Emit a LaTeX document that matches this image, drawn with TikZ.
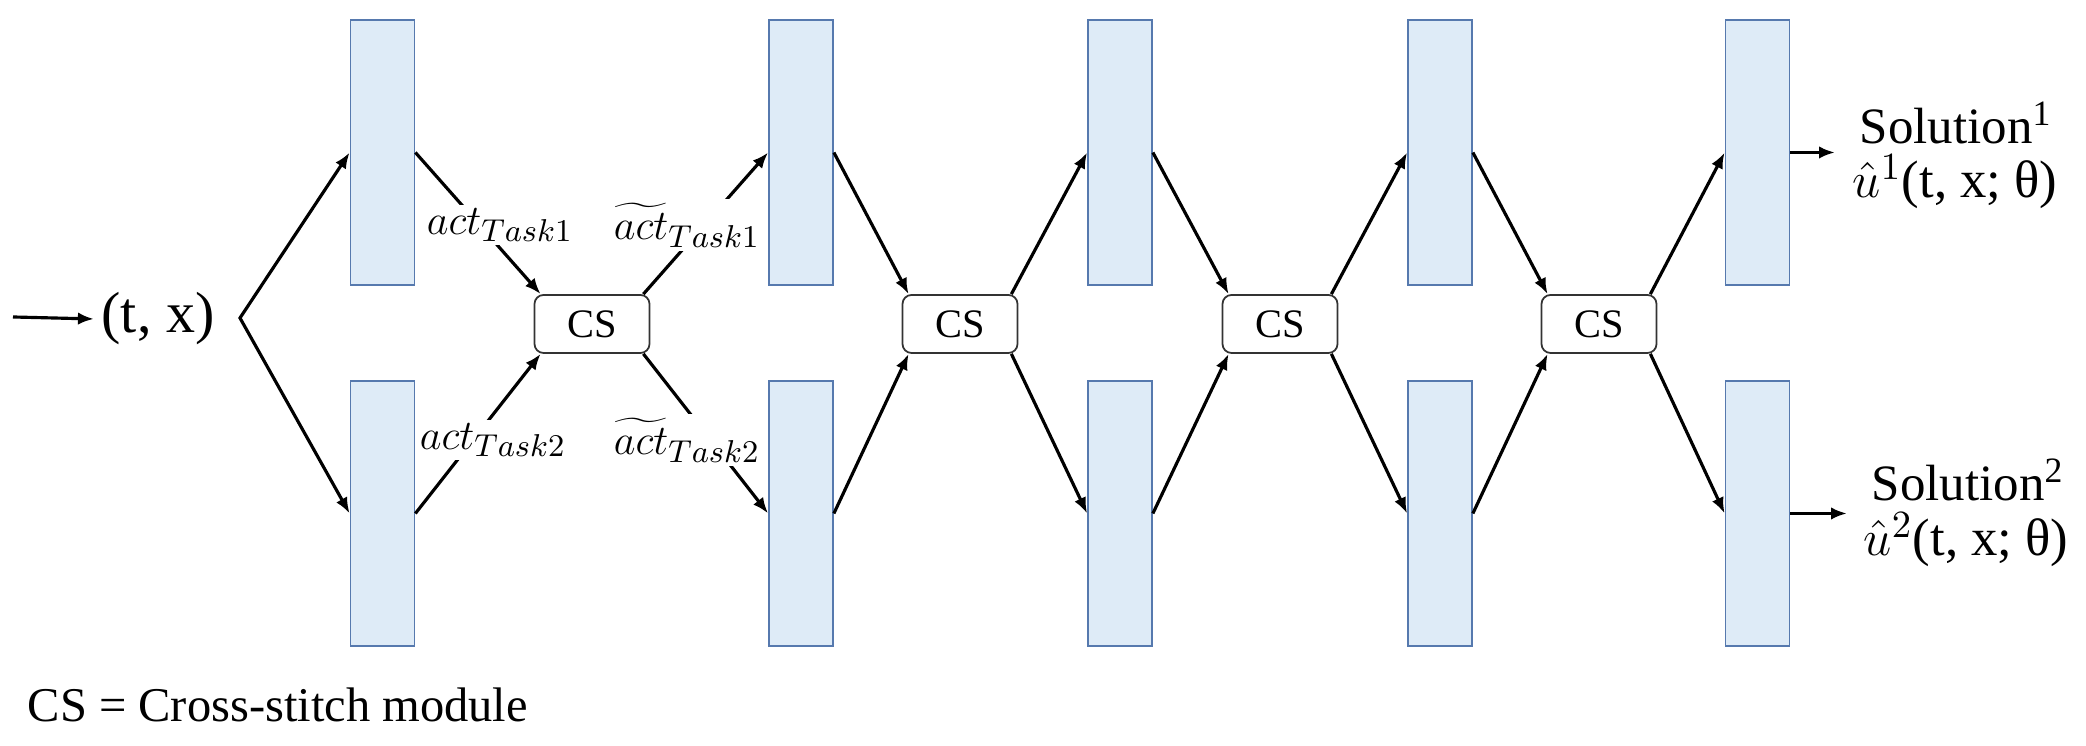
\documentclass[tikz,border=0pt]{standalone}
\usepackage{fontspec}
\setmainfont{Liberation Serif}
\usetikzlibrary{arrows.meta,calc}
\definecolor{rectfill}{HTML}{DEEBF7}
\definecolor{rectdraw}{HTML}{5679AE}
\tikzset{
  layer/.style={draw=rectdraw, fill=rectfill, line width=0.5pt, minimum width=0.64cm, minimum height=2.65cm, inner sep=0pt},
  csbox/.style={draw=black!80, fill=white, rounded corners=0.09cm, line width=0.5pt, minimum width=1.15cm, minimum height=0.58cm, inner sep=0pt, font=\fontsize{11.5pt}{13pt}\selectfont},
  conn/.style={line width=0.9pt, -{Latex[length=1.6mm,width=1.25mm]}},
  both/.style={line width=0.9pt, {Latex[length=1.6mm,width=1.25mm]}-{Latex[length=1.6mm,width=1.25mm]}},
  lbl/.style={fill=white, inner sep=1pt, font=\fontsize{12.5pt}{14pt}\selectfont},
  bigtxt/.style={inner sep=0pt, font=\fontsize{14.5pt}{17pt}\selectfont},
  mathtxt/.style={inner sep=0pt, font=\fontsize{15pt}{18pt}\selectfont},
}
\begin{document}
\begin{tikzpicture}
\useasboundingbox (0,0) rectangle (20.86,7.46);
% layers
\foreach \i/\x in {1/3.825,2/8.01,3/11.20,4/14.40,5/17.575} {
  \node[layer] (t\i) at (\x,5.935) {};
  \node[layer] (b\i) at (\x,2.325) {};
}
% cross-stitch modules
\foreach \i/\x in {1/5.92,2/9.60,3/12.80,4/15.99} {
  \node[csbox] (cs\i) at (\x,4.22) {CS};
}
% connectors
\foreach \i in {1,...,4} {
  \pgfmathtruncatemacro{\j}{\i+1}
  \draw[conn] (t\i.east) -- ([xshift=0.07cm]cs\i.north west);
  \draw[conn] (b\i.east) -- ([xshift=0.07cm]cs\i.south west);
  \draw[conn] ([xshift=-0.07cm]cs\i.north east) -- (t\j.west);
  \draw[conn] ([xshift=-0.07cm]cs\i.south east) -- (b\j.west);
}
% labels on first module
\node[lbl] (a1) at (5.00,5.21) {$act_{Task1}$};
\node[lbl] (a2) at (4.93,3.06) {$act_{Task2}$};
\node[lbl] (w1) at (6.87,5.21) {$\widetilde{act}_{Task1}$};
\node[lbl] (w2) at (6.87,3.06) {$\widetilde{act}_{Task2}$};
% input
\coordinate (src) at (0.13,4.29);
\node[inner sep=2pt, font=\fontsize{16.5pt}{19pt}\selectfont] (tx) at (1.58,4.27) {(t, x)};
\draw[conn] (src) -- (tx.west);
\coordinate (split) at (2.40,4.28);
\draw[both] (t1.west) -- (split) -- (b1.west);
% outputs
\coordinate (o1) at (18.35,5.935);
\coordinate (o2) at (18.47,2.325);
\draw[conn] (t5.east) -- (o1);
\draw[conn] (b5.east) -- (o2);
\node[bigtxt] (s1) at (19.56,6.23) {Solution\textsuperscript{1}};
\node[mathtxt] (u1) at (19.55,5.64) {$\hat{u}^{1}$(t, x; θ)};
\node[bigtxt] (s2) at (19.68,2.66) {Solution\textsuperscript{2}};
\node[mathtxt] (u2) at (19.66,2.06) {$\hat{u}^{2}$(t, x; θ)};
% legend
\node[anchor=west, inner sep=0pt, font=\fontsize{13.8pt}{16pt}\selectfont] (legend) at (0.27,0.41) {CS = Cross-stitch module};
\end{tikzpicture}
\end{document}
